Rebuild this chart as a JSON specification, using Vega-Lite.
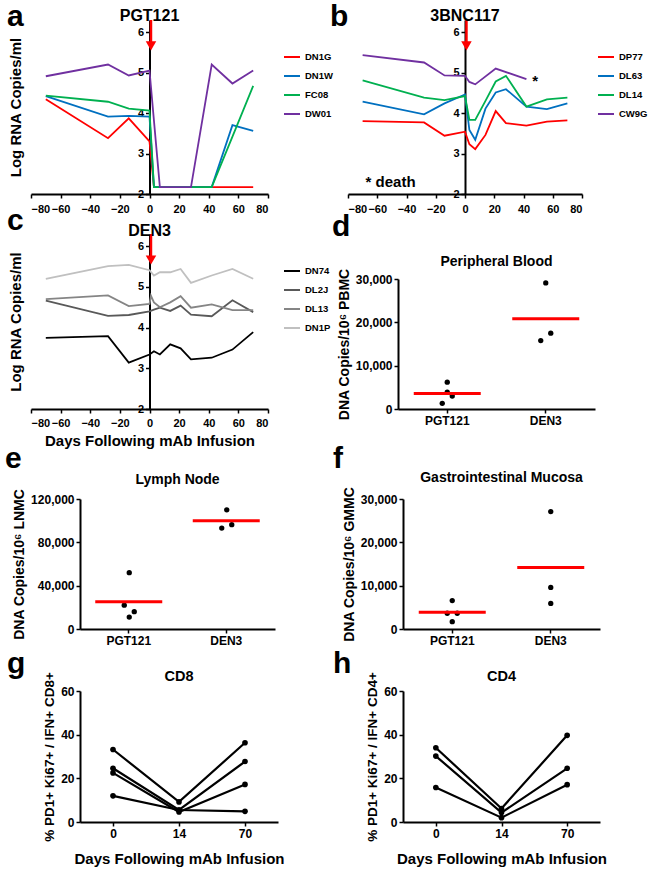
{
 "$schema": "https://vega.github.io/schema/vega-lite/v6.json",
 "padding": {"left": 5, "top": 2, "right": 5, "bottom": 5},
 "config": {
  "view": {"stroke": null},
  "font": "Liberation Sans",
  "axis": {"grid": false, "domainColor": "#000", "domainWidth": 2, "tickColor": "#000", "tickWidth": 1.5, "tickSize": 4, "labelColor": "#000", "labelFontWeight": "bold", "labelFont": "Liberation Sans", "titleColor": "#000", "titleFontWeight": "bold", "titleFont": "Liberation Sans", "labelFontSize": 12, "titleFontSize": 14, "labelOverlap": false},
  "axisX": {"labelOverlap": false},
  "axisQuantitative": {"labelOverlap": false},
  "title": {"font": "Liberation Sans", "fontWeight": "bold", "color": "#000", "fontSize": 30, "anchor": "start", "frame": "group", "baseline": "alphabetic", "offset": 0},
  "text": {"font": "Liberation Sans", "fontWeight": "bold", "color": "#000"},
  "legend": {"labelFont": "Liberation Sans", "labelFontWeight": "bold", "labelFontSize": 9.5, "labelColor": "#000", "symbolType": "stroke", "symbolSize": 256, "symbolStrokeWidth": 2, "rowPadding": 5, "padding": 0}
 },
 "datasets": {
  "arrowrule": [{"day": 1, "v": 6.3, "v2": 5.66}],
  "arrowhead": [{"day": 1, "v": 5.66}],
  "pgt": [
   {"animal": "DN1G", "day": -70, "v": 4.34}, {"animal": "DN1G", "day": -28, "v": 3.38}, {"animal": "DN1G", "day": -14, "v": 3.87}, {"animal": "DN1G", "day": 0, "v": 3.3}, {"animal": "DN1G", "day": 3, "v": 2.17}, {"animal": "DN1G", "day": 7, "v": 2.17}, {"animal": "DN1G", "day": 28, "v": 2.17}, {"animal": "DN1G", "day": 42, "v": 2.17}, {"animal": "DN1G", "day": 56, "v": 2.17}, {"animal": "DN1G", "day": 70, "v": 2.17},
   {"animal": "DN1W", "day": -70, "v": 4.42}, {"animal": "DN1W", "day": -28, "v": 3.91}, {"animal": "DN1W", "day": -14, "v": 3.93}, {"animal": "DN1W", "day": 0, "v": 3.91}, {"animal": "DN1W", "day": 3, "v": 2.17}, {"animal": "DN1W", "day": 7, "v": 2.17}, {"animal": "DN1W", "day": 28, "v": 2.17}, {"animal": "DN1W", "day": 42, "v": 2.17}, {"animal": "DN1W", "day": 56, "v": 3.7}, {"animal": "DN1W", "day": 70, "v": 3.56},
   {"animal": "FC08", "day": -70, "v": 4.43}, {"animal": "FC08", "day": -28, "v": 4.28}, {"animal": "FC08", "day": -14, "v": 4.11}, {"animal": "FC08", "day": 0, "v": 4.06}, {"animal": "FC08", "day": 3, "v": 2.17}, {"animal": "FC08", "day": 7, "v": 2.17}, {"animal": "FC08", "day": 28, "v": 2.17}, {"animal": "FC08", "day": 42, "v": 2.17}, {"animal": "FC08", "day": 56, "v": 3.42}, {"animal": "FC08", "day": 70, "v": 4.67},
   {"animal": "DW01", "day": -70, "v": 4.91}, {"animal": "DW01", "day": -28, "v": 5.2}, {"animal": "DW01", "day": -14, "v": 4.93}, {"animal": "DW01", "day": 0, "v": 5.05}, {"animal": "DW01", "day": 7, "v": 2.17}, {"animal": "DW01", "day": 28, "v": 2.17}, {"animal": "DW01", "day": 42, "v": 5.2}, {"animal": "DW01", "day": 56, "v": 4.73}, {"animal": "DW01", "day": 70, "v": 5.05}
  ],
  "bnc": [
   {"animal": "DP77", "day": -70, "v": 3.8}, {"animal": "DP77", "day": -28, "v": 3.77}, {"animal": "DP77", "day": -14, "v": 3.44}, {"animal": "DP77", "day": 0, "v": 3.54}, {"animal": "DP77", "day": 3, "v": 3.23}, {"animal": "DP77", "day": 7, "v": 3.11}, {"animal": "DP77", "day": 14, "v": 3.46}, {"animal": "DP77", "day": 21, "v": 4.05}, {"animal": "DP77", "day": 28, "v": 3.75}, {"animal": "DP77", "day": 42, "v": 3.69}, {"animal": "DP77", "day": 56, "v": 3.79}, {"animal": "DP77", "day": 70, "v": 3.82},
   {"animal": "DL63", "day": -70, "v": 4.28}, {"animal": "DL63", "day": -28, "v": 3.97}, {"animal": "DL63", "day": -14, "v": 4.24}, {"animal": "DL63", "day": 0, "v": 4.46}, {"animal": "DL63", "day": 3, "v": 3.58}, {"animal": "DL63", "day": 7, "v": 3.34}, {"animal": "DL63", "day": 14, "v": 4.11}, {"animal": "DL63", "day": 21, "v": 4.51}, {"animal": "DL63", "day": 28, "v": 4.59}, {"animal": "DL63", "day": 42, "v": 4.16}, {"animal": "DL63", "day": 56, "v": 4.1}, {"animal": "DL63", "day": 70, "v": 4.24},
   {"animal": "DL14", "day": -70, "v": 4.81}, {"animal": "DL14", "day": -28, "v": 4.38}, {"animal": "DL14", "day": -14, "v": 4.32}, {"animal": "DL14", "day": 0, "v": 4.42}, {"animal": "DL14", "day": 3, "v": 3.83}, {"animal": "DL14", "day": 7, "v": 3.83}, {"animal": "DL14", "day": 14, "v": 4.3}, {"animal": "DL14", "day": 21, "v": 4.78}, {"animal": "DL14", "day": 28, "v": 4.92}, {"animal": "DL14", "day": 42, "v": 4.16}, {"animal": "DL14", "day": 56, "v": 4.34}, {"animal": "DL14", "day": 70, "v": 4.38},
   {"animal": "CW9G", "day": -70, "v": 5.43}, {"animal": "CW9G", "day": -28, "v": 5.25}, {"animal": "CW9G", "day": -14, "v": 4.93}, {"animal": "CW9G", "day": 0, "v": 4.92}, {"animal": "CW9G", "day": 3, "v": 4.77}, {"animal": "CW9G", "day": 7, "v": 4.71}, {"animal": "CW9G", "day": 21, "v": 5.1}, {"animal": "CW9G", "day": 42, "v": 4.84}
  ],
  "den": [
   {"animal": "DN74", "day": -70, "v": 3.75}, {"animal": "DN74", "day": -28, "v": 3.79}, {"animal": "DN74", "day": -14, "v": 3.14}, {"animal": "DN74", "day": 0, "v": 3.34}, {"animal": "DN74", "day": 3, "v": 3.42}, {"animal": "DN74", "day": 7, "v": 3.34}, {"animal": "DN74", "day": 14, "v": 3.59}, {"animal": "DN74", "day": 21, "v": 3.49}, {"animal": "DN74", "day": 28, "v": 3.22}, {"animal": "DN74", "day": 42, "v": 3.26}, {"animal": "DN74", "day": 56, "v": 3.46}, {"animal": "DN74", "day": 70, "v": 3.89},
   {"animal": "DL2J", "day": -70, "v": 4.66}, {"animal": "DL2J", "day": -28, "v": 4.29}, {"animal": "DL2J", "day": -14, "v": 4.31}, {"animal": "DL2J", "day": 0, "v": 4.4}, {"animal": "DL2J", "day": 3, "v": 4.44}, {"animal": "DL2J", "day": 7, "v": 4.49}, {"animal": "DL2J", "day": 14, "v": 4.41}, {"animal": "DL2J", "day": 21, "v": 4.54}, {"animal": "DL2J", "day": 28, "v": 4.32}, {"animal": "DL2J", "day": 42, "v": 4.28}, {"animal": "DL2J", "day": 56, "v": 4.67}, {"animal": "DL2J", "day": 70, "v": 4.38},
   {"animal": "DL13", "day": -70, "v": 4.7}, {"animal": "DL13", "day": -28, "v": 4.79}, {"animal": "DL13", "day": -14, "v": 4.53}, {"animal": "DL13", "day": 0, "v": 4.58}, {"animal": "DL13", "day": 1, "v": 4.78}, {"animal": "DL13", "day": 3, "v": 4.62}, {"animal": "DL13", "day": 7, "v": 4.5}, {"animal": "DL13", "day": 14, "v": 4.62}, {"animal": "DL13", "day": 21, "v": 4.77}, {"animal": "DL13", "day": 28, "v": 4.49}, {"animal": "DL13", "day": 42, "v": 4.57}, {"animal": "DL13", "day": 56, "v": 4.43}, {"animal": "DL13", "day": 70, "v": 4.43},
   {"animal": "DN1P", "day": -70, "v": 5.2}, {"animal": "DN1P", "day": -28, "v": 5.51}, {"animal": "DN1P", "day": -14, "v": 5.54}, {"animal": "DN1P", "day": 0, "v": 5.41}, {"animal": "DN1P", "day": 3, "v": 5.28}, {"animal": "DN1P", "day": 7, "v": 5.36}, {"animal": "DN1P", "day": 14, "v": 5.36}, {"animal": "DN1P", "day": 21, "v": 5.44}, {"animal": "DN1P", "day": 28, "v": 5.1}, {"animal": "DN1P", "day": 42, "v": 5.28}, {"animal": "DN1P", "day": 56, "v": 5.44}, {"animal": "DN1P", "day": 70, "v": 5.2}
  ],
  "notes": [{"day": -68, "v": 2.3, "t": "* death"}, {"day": 46, "v": 4.8, "t": "*"}],
  "dna": [
   {"tissue": "PB", "grp": "PGT121", "v": 6200, "j": "C"}, {"tissue": "PB", "grp": "PGT121", "v": 3900, "j": "C"}, {"tissue": "PB", "grp": "PGT121", "v": 3000, "j": "R"}, {"tissue": "PB", "grp": "PGT121", "v": 1300, "j": "L"},
   {"tissue": "PB", "grp": "DEN3", "v": 29100, "j": "C"}, {"tissue": "PB", "grp": "DEN3", "v": 17500, "j": "R"}, {"tissue": "PB", "grp": "DEN3", "v": 15800, "j": "L"},
   {"tissue": "LN", "grp": "PGT121", "v": 52000, "j": "C"}, {"tissue": "LN", "grp": "PGT121", "v": 22000, "j": "L"}, {"tissue": "LN", "grp": "PGT121", "v": 16000, "j": "R"}, {"tissue": "LN", "grp": "PGT121", "v": 11000, "j": "C"},
   {"tissue": "LN", "grp": "DEN3", "v": 110000, "j": "C"}, {"tissue": "LN", "grp": "DEN3", "v": 96300, "j": "R"}, {"tissue": "LN", "grp": "DEN3", "v": 93200, "j": "L"},
   {"tissue": "GM", "grp": "PGT121", "v": 6550, "j": "C"}, {"tissue": "GM", "grp": "PGT121", "v": 3630, "j": "L"}, {"tissue": "GM", "grp": "PGT121", "v": 3630, "j": "R"}, {"tissue": "GM", "grp": "PGT121", "v": 1700, "j": "C"},
   {"tissue": "GM", "grp": "DEN3", "v": 27100, "j": "C"}, {"tissue": "GM", "grp": "DEN3", "v": 9600, "j": "C"}, {"tissue": "GM", "grp": "DEN3", "v": 5900, "j": "C"}
  ],
  "ics": [
   {"cell": "CD8", "animal": "A1", "day": "0", "v": 33.2}, {"cell": "CD8", "animal": "A1", "day": "14", "v": 9.2}, {"cell": "CD8", "animal": "A1", "day": "70", "v": 36.3},
   {"cell": "CD8", "animal": "A2", "day": "0", "v": 24.6}, {"cell": "CD8", "animal": "A2", "day": "14", "v": 5.5}, {"cell": "CD8", "animal": "A2", "day": "70", "v": 27.7},
   {"cell": "CD8", "animal": "A3", "day": "0", "v": 22.5}, {"cell": "CD8", "animal": "A3", "day": "14", "v": 4.6}, {"cell": "CD8", "animal": "A3", "day": "70", "v": 17.2},
   {"cell": "CD8", "animal": "A4", "day": "0", "v": 12.0}, {"cell": "CD8", "animal": "A4", "day": "14", "v": 5.5}, {"cell": "CD8", "animal": "A4", "day": "70", "v": 4.9},
   {"cell": "CD4", "animal": "B1", "day": "0", "v": 34.0}, {"cell": "CD4", "animal": "B1", "day": "14", "v": 6.2}, {"cell": "CD4", "animal": "B1", "day": "70", "v": 39.7},
   {"cell": "CD4", "animal": "B2", "day": "0", "v": 30.2}, {"cell": "CD4", "animal": "B2", "day": "14", "v": 4.3}, {"cell": "CD4", "animal": "B2", "day": "70", "v": 24.6},
   {"cell": "CD4", "animal": "B3", "day": "0", "v": 15.8}, {"cell": "CD4", "animal": "B3", "day": "14", "v": 2.0}, {"cell": "CD4", "animal": "B3", "day": "70", "v": 17.1}
  ]
 },
 "resolve": {"scale": {"color": "independent", "x": "independent", "y": "independent"}, "legend": {"color": "independent"}},
 "bounds": "flush",
 "align": "each",
 "columns": 2,
 "spacing": {"row": 40, "column": 70},
 "concat": [
  {
   "width": 237, "height": 174,
   "title": {"text": "a", "dx": -24, "dy": 28},
   "encoding": {
    "x": {"field": "day", "type": "quantitative", "scale": {"domain": [-80, 80]}, "axis": {"values": [-80, -60, -40, -20, 0, 20, 40, 60, 80], "title": null, "labelFontSize": 11, "labelPadding": 5, "labelOverlap": false}},
    "y": {"field": "v", "type": "quantitative", "scale": {"domain": [2, 6.3]}, "axis": {"values": [2, 3, 4, 5, 6], "offset": -118.5, "title": "Log RNA Copies/ml", "titleFontSize": 15, "titleX": -126, "labelFontSize": 11, "labelPadding": 2, "labelOverlap": false}}
   },
   "layer": [
    {"data": {"name": "pgt"}, "mark": {"type": "line", "strokeWidth": 1.8},
     "encoding": {"color": {"field": "animal", "type": "nominal", "scale": {"domain": ["DN1G", "DN1W", "FC08", "DW01"], "range": ["#ff0000", "#0070c0", "#00b050", "#7030a0"]}, "legend": {"orient": "none", "legendX": 252, "legendY": 28, "title": null}}}},
    {"data": {"name": "arrowrule"}, "mark": {"type": "rule", "color": "#ff0000", "strokeWidth": 2.5}, "encoding": {"y2": {"field": "v2"}}},
    {"data": {"name": "arrowhead"}, "mark": {"type": "point", "shape": "triangle-down", "filled": true, "color": "#ff0000", "opacity": 1, "size": 110}},
    {"data": {"values": [{"day": 0, "v": 6.27, "t": "PGT121"}]}, "mark": {"type": "text", "fontSize": 16, "baseline": "alphabetic", "align": "center"}, "encoding": {"text": {"field": "t"}}}
   ]
  },
  {
   "width": 234, "height": 174,
   "title": {"text": "b", "dx": -18, "dy": 28},
   "encoding": {
    "x": {"field": "day", "type": "quantitative", "scale": {"domain": [-80, 80]}, "axis": {"values": [-80, -60, -40, -20, 0, 20, 40, 60, 80], "title": null, "labelFontSize": 11, "labelPadding": 5, "labelOverlap": false}},
    "y": {"field": "v", "type": "quantitative", "scale": {"domain": [2, 6.3]}, "axis": {"values": [2, 3, 4, 5, 6], "offset": -117, "title": null, "labelFontSize": 11, "labelPadding": 2, "labelOverlap": false}}
   },
   "layer": [
    {"data": {"name": "bnc"}, "mark": {"type": "line", "strokeWidth": 1.8},
     "encoding": {"color": {"field": "animal", "type": "nominal", "scale": {"domain": ["DP77", "DL63", "DL14", "CW9G"], "range": ["#ff0000", "#0070c0", "#00b050", "#7030a0"]}, "legend": {"orient": "none", "legendX": 249, "legendY": 28, "title": null}}}},
    {"data": {"name": "arrowrule"}, "mark": {"type": "rule", "color": "#ff0000", "strokeWidth": 2.5}, "encoding": {"y2": {"field": "v2"}}},
    {"data": {"name": "arrowhead"}, "mark": {"type": "point", "shape": "triangle-down", "filled": true, "color": "#ff0000", "opacity": 1, "size": 110}},
    {"data": {"name": "notes"}, "mark": {"type": "text", "align": "left", "baseline": "middle", "fontSize": 15}, "encoding": {"text": {"field": "t"}}},
    {"data": {"values": [{"day": 0, "v": 6.27, "t": "3BNC117"}]}, "mark": {"type": "text", "fontSize": 16, "baseline": "alphabetic", "align": "center"}, "encoding": {"text": {"field": "t"}}}
   ]
  },
  {
   "width": 237, "height": 175,
   "title": {"text": "c", "dx": -24, "dy": 17},
   "encoding": {
    "x": {"field": "day", "type": "quantitative", "scale": {"domain": [-80, 80]}, "axis": {"values": [-80, -60, -40, -20, 0, 20, 40, 60, 80], "title": "Days Following mAb Infusion", "titleFontSize": 15, "titlePadding": 5, "labelFontSize": 11, "labelPadding": 4, "labelOverlap": false}},
    "y": {"field": "v", "type": "quantitative", "scale": {"domain": [2, 6.3]}, "axis": {"values": [2, 3, 4, 5, 6], "offset": -118.5, "title": "Log RNA Copies/ml", "titleFontSize": 15, "titleX": -126, "labelFontSize": 11, "labelPadding": 2, "labelOverlap": false}}
   },
   "layer": [
    {"data": {"name": "den"}, "mark": {"type": "line", "strokeWidth": 1.8},
     "encoding": {"color": {"field": "animal", "type": "nominal", "scale": {"domain": ["DN74", "DL2J", "DL13", "DN1P"], "range": ["#000000", "#595959", "#858585", "#c0c0c0"]}, "legend": {"orient": "none", "legendX": 252, "legendY": 28, "title": null}}}},
    {"data": {"name": "arrowrule"}, "mark": {"type": "rule", "color": "#ff0000", "strokeWidth": 2.5}, "encoding": {"y2": {"field": "v2"}}},
    {"data": {"name": "arrowhead"}, "mark": {"type": "point", "shape": "triangle-down", "filled": true, "color": "#ff0000", "opacity": 1, "size": 110}},
    {"data": {"values": [{"day": 0, "v": 6.26, "t": "DEN3"}]}, "mark": {"type": "text", "fontSize": 16, "baseline": "alphabetic", "align": "center"}, "encoding": {"text": {"field": "t"}}}
   ]
  },
  {
   "width": 247, "height": 175,
   "title": {"text": "d", "dx": -16, "dy": 12},
   "layer": [
    {"data": {"name": "dna"}, "transform": [{"filter": "datum.tissue === 'PB'"}],
     "mark": {"type": "point", "filled": true, "color": "#000", "opacity": 1, "size": 28},
     "encoding": {
      "x": {"field": "grp", "type": "nominal", "sort": ["PGT121", "DEN3"], "scale": {"type": "band", "paddingInner": 0, "paddingOuter": 0, "range": [50, 247]}, "axis": {"title": null, "labelAngle": 0, "labelFontSize": 12}},
      "xOffset": {"field": "j", "type": "nominal", "sort": ["L", "C", "R"], "scale": {"domain": ["L", "C", "R"], "range": [41.75, 56.75]}},
      "y": {"field": "v", "type": "quantitative", "scale": {"domain": [0, 30000], "range": [175, 45]}, "axis": {"values": [0, 10000, 20000, 30000], "format": ",.0f", "offset": -50, "title": "DNA Copies/10⁶ PBMC", "titleFontSize": 14}}}},
    {"data": {"name": "dna"}, "transform": [{"filter": "datum.tissue === 'PB'"}],
     "mark": {"type": "tick", "color": "#ff0000", "thickness": 3, "size": 67},
     "encoding": {
      "x": {"field": "grp", "type": "nominal", "sort": ["PGT121", "DEN3"]},
      "y": {"aggregate": "mean", "field": "v", "type": "quantitative", "axis": {"values": [0, 10000, 20000, 30000], "format": ",.0f", "offset": -50, "title": "DNA Copies/10⁶ PBMC", "titleFontSize": 14}}}},
    {"data": {"values": [{"t": "Peripheral Blood"}]}, "mark": {"type": "text", "fontSize": 14, "baseline": "alphabetic", "align": "center"}, "encoding": {"x": {"datum": "DEN3", "type": "nominal", "bandPosition": 0}, "y": {"datum": 33000, "type": "quantitative"}, "text": {"field": "t"}}}
   ]
  },
  {
   "width": 244, "height": 180,
   "title": {"text": "e", "dx": -26, "dy": 29},
   "layer": [
    {"data": {"name": "dna"}, "transform": [{"filter": "datum.tissue === 'LN'"}],
     "mark": {"type": "point", "filled": true, "color": "#000", "opacity": 1, "size": 28},
     "encoding": {
      "x": {"field": "grp", "type": "nominal", "sort": ["PGT121", "DEN3"], "scale": {"type": "band", "paddingInner": 0, "paddingOuter": 0, "range": [49, 244]}, "axis": {"title": null, "labelAngle": 0, "labelFontSize": 12}},
      "xOffset": {"field": "j", "type": "nominal", "sort": ["L", "C", "R"], "scale": {"domain": ["L", "C", "R"], "range": [41.25, 56.25]}},
      "y": {"field": "v", "type": "quantitative", "scale": {"domain": [0, 120000], "range": [180, 50]}, "axis": {"values": [0, 40000, 80000, 120000], "format": ",.0f", "offset": -49, "title": "DNA Copies/10⁶ LNMC", "titleFontSize": 14}}}},
    {"data": {"name": "dna"}, "transform": [{"filter": "datum.tissue === 'LN'"}],
     "mark": {"type": "tick", "color": "#ff0000", "thickness": 3, "size": 67},
     "encoding": {
      "x": {"field": "grp", "type": "nominal", "sort": ["PGT121", "DEN3"]},
      "y": {"aggregate": "mean", "field": "v", "type": "quantitative", "axis": {"values": [0, 40000, 80000, 120000], "format": ",.0f", "offset": -49, "title": "DNA Copies/10⁶ LNMC", "titleFontSize": 14}}}},
    {"data": {"values": [{"t": "Lymph Node"}]}, "mark": {"type": "text", "fontSize": 14, "baseline": "alphabetic", "align": "center"}, "encoding": {"x": {"datum": "DEN3", "type": "nominal", "bandPosition": 0}, "y": {"datum": 134000, "type": "quantitative"}, "text": {"field": "t"}}}
   ]
  },
  {
   "width": 252, "height": 180,
   "title": {"text": "f", "dx": -15, "dy": 29},
   "layer": [
    {"data": {"name": "dna"}, "transform": [{"filter": "datum.tissue === 'GM'"}],
     "mark": {"type": "point", "filled": true, "color": "#000", "opacity": 1, "size": 28},
     "encoding": {
      "x": {"field": "grp", "type": "nominal", "sort": ["PGT121", "DEN3"], "scale": {"type": "band", "paddingInner": 0, "paddingOuter": 0, "range": [55, 252]}, "axis": {"title": null, "labelAngle": 0, "labelFontSize": 12}},
      "xOffset": {"field": "j", "type": "nominal", "sort": ["L", "C", "R"], "scale": {"domain": ["L", "C", "R"], "range": [41.75, 56.75]}},
      "y": {"field": "v", "type": "quantitative", "scale": {"domain": [0, 30000], "range": [180, 50]}, "axis": {"values": [0, 10000, 20000, 30000], "format": ",.0f", "offset": -55, "title": "DNA Copies/10⁶ GMMC", "titleFontSize": 14}}}},
    {"data": {"name": "dna"}, "transform": [{"filter": "datum.tissue === 'GM'"}],
     "mark": {"type": "tick", "color": "#ff0000", "thickness": 3, "size": 67},
     "encoding": {
      "x": {"field": "grp", "type": "nominal", "sort": ["PGT121", "DEN3"]},
      "y": {"aggregate": "mean", "field": "v", "type": "quantitative", "axis": {"values": [0, 10000, 20000, 30000], "format": ",.0f", "offset": -55, "title": "DNA Copies/10⁶ GMMC", "titleFontSize": 14}}}},
    {"data": {"values": [{"t": "Gastrointestinal  Mucosa"}]}, "mark": {"type": "text", "fontSize": 14, "baseline": "alphabetic", "align": "center"}, "encoding": {"x": {"datum": "DEN3", "type": "nominal", "bandPosition": 0}, "y": {"datum": 33850, "type": "quantitative"}, "text": {"field": "t"}}}
   ]
  },
  {
   "width": 247, "height": 153,
   "title": {"text": "g", "dx": -24, "dy": 14},
   "layer": [
    {"data": {"name": "ics"}, "transform": [{"filter": "datum.cell === 'CD8'"}],
     "encoding": {
      "x": {"field": "day", "type": "ordinal", "sort": ["0", "14", "70"], "scale": {"type": "point", "padding": 0.5, "range": [49, 247]}, "axis": {"title": "Days Following mAb Infusion", "titleFontSize": 15, "titlePadding": 12, "labelAngle": 0, "labelFontSize": 12}},
      "y": {"field": "v", "type": "quantitative", "scale": {"domain": [0, 60], "range": [153, 22]}, "axis": {"values": [0, 20, 40, 60], "offset": -49, "title": "% PD1+ Ki67+ / IFN+ CD8+", "titleFontSize": 13.5}},
      "detail": {"field": "animal", "type": "nominal"}
     },
     "layer": [
      {"mark": {"type": "line", "color": "#000", "strokeWidth": 2.2}},
      {"mark": {"type": "point", "filled": true, "color": "#000", "opacity": 1, "size": 32}}
     ]},
    {"data": {"values": [{"t": "CD8"}]}, "mark": {"type": "text", "fontSize": 14.5, "baseline": "alphabetic", "align": "center"}, "encoding": {"x": {"datum": "14", "type": "ordinal"}, "y": {"datum": 64.5, "type": "quantitative"}, "text": {"field": "t"}}}
   ]
  },
  {
   "width": 252, "height": 153,
   "title": {"text": "h", "dx": -15, "dy": 14},
   "layer": [
    {"data": {"name": "ics"}, "transform": [{"filter": "datum.cell === 'CD4'"}],
     "encoding": {
      "x": {"field": "day", "type": "ordinal", "sort": ["0", "14", "70"], "scale": {"type": "point", "padding": 0.5, "range": [55, 252]}, "axis": {"title": "Days Following mAb Infusion", "titleFontSize": 15, "titlePadding": 12, "labelAngle": 0, "labelFontSize": 12}},
      "y": {"field": "v", "type": "quantitative", "scale": {"domain": [0, 60], "range": [153, 22]}, "axis": {"values": [0, 20, 40, 60], "offset": -55, "title": "% PD1+ Ki67+ / IFN+ CD4+", "titleFontSize": 13.5}},
      "detail": {"field": "animal", "type": "nominal"}
     },
     "layer": [
      {"mark": {"type": "line", "color": "#000", "strokeWidth": 2.2}},
      {"mark": {"type": "point", "filled": true, "color": "#000", "opacity": 1, "size": 32}}
     ]},
    {"data": {"values": [{"t": "CD4"}]}, "mark": {"type": "text", "fontSize": 14.5, "baseline": "alphabetic", "align": "center"}, "encoding": {"x": {"datum": "14", "type": "ordinal"}, "y": {"datum": 64.5, "type": "quantitative"}, "text": {"field": "t"}}}
   ]
  }
 ]
}
